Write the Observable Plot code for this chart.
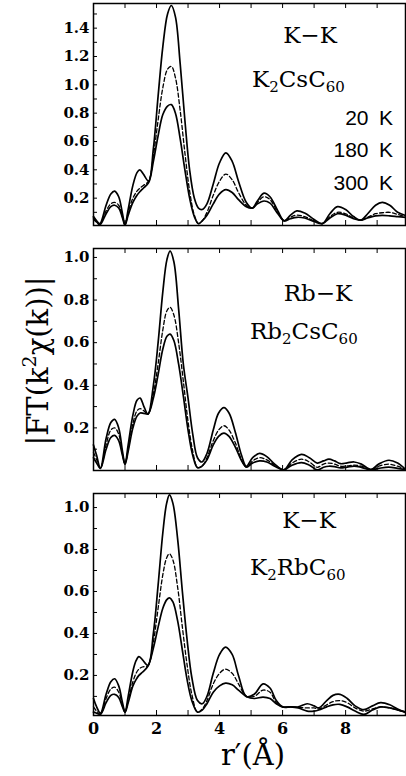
<!DOCTYPE html>
<html><head><meta charset="utf-8">
<script src="https://cdn.jsdelivr.net/npm/d3@7"></script>
<script src="https://cdn.jsdelivr.net/npm/@observablehq/plot@0.6"></script>
<style>
body{margin:0;background:#fff;}
#wrap{position:relative;width:406px;height:776px;overflow:hidden;background:#fff;}
</style></head><body><div id="wrap"></div>
<script>
// ---------- data ----------
const seriesNames = ["20 K", "180 K", "300 K"];
const xTickLabels = [0, 2, 4, 6, 8];

// Panel 1: K-K, K2CsC60
const r1 = [0,0.1,0.2,0.4,0.55,0.67,0.8,0.92,1.0,1.1,1.25,1.38,1.47,1.58,1.75,1.9,2.05,2.2,2.35,2.47,2.6,2.75,2.9,3.05,3.2,3.33,3.45,3.6,3.8,4.0,4.2,4.4,4.6,4.85,5.04,5.2,5.41,5.6,5.85,6.05,6.25,6.45,6.7,7.0,7.26,7.5,7.74,8.0,8.25,8.48,8.7,8.95,9.16,9.4,9.65,9.9];
const p1_20 = [0.07,0.04,0.02,0.15,0.23,0.25,0.21,0.09,0.01,0.12,0.29,0.38,0.40,0.37,0.32,0.55,0.92,1.27,1.50,1.56,1.48,1.15,0.75,0.40,0.20,0.13,0.12,0.16,0.30,0.45,0.52,0.46,0.32,0.17,0.13,0.18,0.235,0.21,0.11,0.04,0.08,0.11,0.095,0.05,0.02,0.09,0.14,0.12,0.07,0.045,0.09,0.15,0.17,0.15,0.10,0.078];
const p1_180 = [0.05,0.03,0.015,0.11,0.16,0.17,0.15,0.07,0.01,0.10,0.20,0.25,0.27,0.29,0.32,0.50,0.75,0.98,1.11,1.13,1.05,0.82,0.52,0.25,0.08,0.02,0.04,0.10,0.22,0.32,0.37,0.33,0.24,0.15,0.13,0.17,0.21,0.19,0.10,0.04,0.065,0.08,0.07,0.04,0.02,0.07,0.10,0.09,0.06,0.045,0.065,0.09,0.097,0.10,0.085,0.07];
const p1_300 = [0.06,0.035,0.01,0.09,0.14,0.15,0.13,0.06,0.01,0.08,0.17,0.22,0.245,0.27,0.31,0.46,0.64,0.79,0.85,0.86,0.80,0.62,0.40,0.20,0.07,0.02,0.04,0.08,0.16,0.23,0.26,0.24,0.19,0.14,0.13,0.16,0.18,0.165,0.09,0.04,0.055,0.065,0.06,0.035,0.02,0.06,0.09,0.08,0.055,0.045,0.06,0.075,0.078,0.075,0.07,0.065];

// Panel 2: Rb-K, Rb2CsC60
const r2 = [0,0.1,0.22,0.4,0.55,0.67,0.8,0.92,1.0,1.1,1.25,1.38,1.48,1.6,1.73,1.9,2.05,2.2,2.33,2.43,2.55,2.7,2.85,3.0,3.15,3.3,3.44,3.6,3.8,3.97,4.14,4.3,4.5,4.7,4.85,5.05,5.27,5.5,5.75,6.04,6.3,6.6,6.85,7.1,7.3,7.47,7.65,7.84,8.05,8.27,8.5,8.8,9.05,9.37,9.65,9.9];
const p2_20 = [0.12,0.07,0.01,0.15,0.225,0.24,0.20,0.09,0.03,0.12,0.26,0.33,0.34,0.30,0.265,0.40,0.60,0.84,0.99,1.03,0.98,0.76,0.50,0.34,0.17,0.06,0.04,0.08,0.19,0.27,0.295,0.27,0.18,0.07,0.02,0.06,0.08,0.065,0.03,0.003,0.05,0.076,0.06,0.035,0.045,0.053,0.045,0.032,0.036,0.04,0.03,0.005,0.03,0.048,0.035,0.005];
const p2_180 = [0.085,0.05,0.01,0.12,0.19,0.20,0.17,0.08,0.03,0.10,0.22,0.28,0.29,0.28,0.265,0.36,0.50,0.66,0.75,0.766,0.73,0.60,0.42,0.23,0.09,0.015,0.02,0.06,0.14,0.19,0.21,0.19,0.13,0.05,0.016,0.045,0.06,0.05,0.025,0.003,0.035,0.053,0.04,0.015,0.03,0.035,0.03,0.02,0.022,0.025,0.02,0.004,0.02,0.03,0.02,0.005];
const p2_300 = [0.06,0.035,0.01,0.10,0.155,0.165,0.14,0.07,0.03,0.09,0.20,0.255,0.27,0.268,0.265,0.34,0.45,0.57,0.63,0.64,0.61,0.50,0.35,0.19,0.07,0.013,0.02,0.05,0.12,0.16,0.175,0.16,0.11,0.045,0.016,0.035,0.045,0.04,0.02,0.003,0.025,0.037,0.025,0.003,0.015,0.02,0.018,0.012,0.016,0.021,0.015,0.003,0.01,0.016,0.01,0.004];

// Panel 3: K-K, K2RbC60
const r3 = [0,0.1,0.22,0.4,0.55,0.67,0.8,0.92,1.0,1.1,1.25,1.35,1.44,1.55,1.73,1.9,2.05,2.2,2.32,2.41,2.52,2.67,2.82,2.97,3.12,3.3,3.45,3.6,3.8,4.0,4.19,4.4,4.6,4.85,5.1,5.38,5.6,5.8,6.0,6.25,6.5,6.78,7.0,7.15,7.4,7.6,7.82,8.05,8.3,8.58,8.85,9.11,9.4,9.65,9.9];
const p3_20 = [0.09,0.05,0.02,0.11,0.17,0.184,0.15,0.07,0.025,0.10,0.22,0.27,0.29,0.275,0.248,0.40,0.63,0.88,1.02,1.06,1.02,0.85,0.60,0.37,0.19,0.08,0.065,0.10,0.21,0.30,0.335,0.30,0.20,0.10,0.11,0.16,0.14,0.08,0.05,0.05,0.05,0.065,0.055,0.045,0.08,0.105,0.11,0.09,0.055,0.037,0.055,0.07,0.06,0.04,0.025];
const p3_180 = [0.05,0.03,0.015,0.09,0.135,0.144,0.12,0.06,0.025,0.08,0.17,0.21,0.23,0.24,0.248,0.36,0.52,0.68,0.76,0.78,0.75,0.62,0.43,0.25,0.11,0.025,0.04,0.08,0.16,0.21,0.23,0.21,0.16,0.10,0.10,0.13,0.12,0.07,0.05,0.05,0.048,0.045,0.045,0.04,0.06,0.075,0.08,0.07,0.045,0.03,0.04,0.05,0.045,0.035,0.025];
const p3_300 = [0.025,0.02,0.015,0.07,0.105,0.11,0.095,0.05,0.025,0.07,0.15,0.18,0.20,0.215,0.245,0.33,0.43,0.52,0.56,0.57,0.55,0.46,0.32,0.18,0.08,0.025,0.035,0.065,0.12,0.15,0.163,0.155,0.13,0.10,0.09,0.097,0.09,0.065,0.05,0.05,0.045,0.03,0.03,0.035,0.05,0.06,0.062,0.05,0.03,0.014,0.035,0.05,0.045,0.035,0.025];

const yTicks1 = [0.2,0.4,0.6,0.8,1.0,1.2,1.4];
const yTicks2 = [0.2,0.4,0.6,0.8,1.0];
const yTicks3 = [0.2,0.4,0.6,0.8,1.0];

// ---------- drawing ----------
const wrap = document.getElementById("wrap");
const W = 406, ML = 93, MR = 1, PH = 222;
const plotW = W - ML - MR;

function rows(r, v){ return r.map((x,i)=>({r:x, v:v[i]})); }

function panel({r, s20, s180, s300, domain, yTicks, top, height, mb, showX}){
  const minor = d3.range(1, Math.floor(domain[1]*10+1e-6)+1).map(i=>i/10);
  const xt = d3.range(1, 10);
  const marks = [
    Plot.line(rows(r, s300), {x:"r", y:"v", curve:"catmull-rom", stroke:"#000", strokeWidth:1.7}),
    Plot.line(rows(r, s180), {x:"r", y:"v", curve:"catmull-rom", stroke:"#000", strokeWidth:1.3, strokeDasharray:"4,2.5"}),
    Plot.line(rows(r, s20), {x:"r", y:"v", curve:"catmull-rom", stroke:"#000", strokeWidth:1.7}),
    Plot.tickY(minor, {y:d=>d, stroke:"#000", strokeWidth:1, insetRight: plotW-4}),
    Plot.tickX(xt, {x:d=>d, stroke:"#000", strokeWidth:1, insetTop: PH-5}),
    Plot.tickX(xt, {x:d=>d, stroke:"#000", strokeWidth:1, insetBottom: PH-5}),
    Plot.axisY(yTicks, {anchor:"left", tickSize:0, tickPadding:4, tickFormat:d=>d.toFixed(1), fontSize:15, fontWeight:"bold", fontFamily:"DejaVu Serif", fill:"#000"}),
    Plot.frame({stroke:"#000", strokeWidth:1.5})
  ];
  if (showX) marks.push(Plot.axisX(xTickLabels, {anchor:"bottom", tickSize:0, tickPadding:7, fontSize:16, fontWeight:"bold", fontFamily:"DejaVu Serif", fill:"#000"}));
  else marks.push(Plot.axisX({ticks:[], anchor:"bottom", label:null}));
  const svg = Plot.plot({
    width: W, height, marginLeft: ML, marginRight: MR, marginTop: 3, marginBottom: mb,
    x: {domain:[0, 9.9], label:null},
    y: {domain, label:null},
    style: {background:"transparent", color:"#000", overflow:"visible"},
    marks
  });
  svg.style.position = "absolute";
  svg.style.left = "0px";
  svg.style.top = top + "px";
  wrap.appendChild(svg);
}

panel({r:r1, s20:p1_20, s180:p1_180, s300:p1_300, domain:[0.007,1.574], yTicks:yTicks1, top:0, height:245, mb:20, showX:false});
panel({r:r2, s20:p2_20, s180:p2_180, s300:p2_300, domain:[0,1.042], yTicks:yTicks2, top:245, height:245, mb:20, showX:false});
panel({r:r3, s20:p3_20, s180:p3_180, s300:p3_300, domain:[0.009,1.067], yTicks:yTicks3, top:490, height:286, mb:61, showX:true});

// ---------- annotations ----------
const NS = "http://www.w3.org/2000/svg";
const ov = document.createElementNS(NS, "svg");
ov.setAttribute("width", W); ov.setAttribute("height", 776);
ov.style.position = "absolute"; ov.style.left = "0"; ov.style.top = "0"; ov.style.pointerEvents = "none";
wrap.appendChild(ov);

function txt(parts, x, y, {anchor="start", size=23, family="DejaVu Serif", transform=null}={}){
  const t = document.createElementNS(NS, "text");
  t.setAttribute("x", x); t.setAttribute("y", y);
  t.setAttribute("text-anchor", anchor);
  t.setAttribute("font-family", family);
  t.setAttribute("font-size", size);
  t.setAttribute("fill", "#000");
  if (transform) t.setAttribute("transform", transform);
  let shift = 0;
  for (const p of parts){
    const s = document.createElementNS(NS, "tspan");
    const target = p.sub ? Math.round(size*0.22) : p.sup ? -Math.round(size*0.4) : 0;
    if (target !== shift) { s.setAttribute("dy", target - shift); shift = target; }
    if (p.sub || p.sup) s.setAttribute("font-size", Math.round(size*0.66));
    s.textContent = p.t;
    t.appendChild(s);
  }
  ov.appendChild(t);
}

txt([{t:"K\u2212K"}], 310, 43, {anchor:"middle"});
txt([{t:"K"},{t:"2",sub:1},{t:"CsC"},{t:"60",sub:1}], 252, 87);
txt([{t:seriesNames[0].replace(" ", "\u2002")}], 393, 125, {anchor:"end", size:21, family:"Liberation Sans"});
txt([{t:seriesNames[1].replace(" ", "\u2002")}], 393, 157, {anchor:"end", size:21, family:"Liberation Sans"});
txt([{t:seriesNames[2].replace(" ", "\u2002")}], 393, 190, {anchor:"end", size:21, family:"Liberation Sans"});

txt([{t:"Rb\u2212K"}], 318, 301, {anchor:"middle"});
txt([{t:"Rb"},{t:"2",sub:1},{t:"CsC"},{t:"60",sub:1}], 250, 339);

txt([{t:"K\u2212K"}], 309, 528, {anchor:"middle"});
txt([{t:"K"},{t:"2",sub:1},{t:"RbC"},{t:"60",sub:1}], 250, 575);

txt([{t:"|FT(k"},{t:"2",sup:1},{t:"\u03C7(k))|"}], 0, 0, {anchor:"middle", size:29, transform:"translate(48,361) rotate(-90)"});
txt([{t:"r\u2032(\u00C5)"}], 253, 765, {anchor:"middle", size:29});
</script>
</body></html>
